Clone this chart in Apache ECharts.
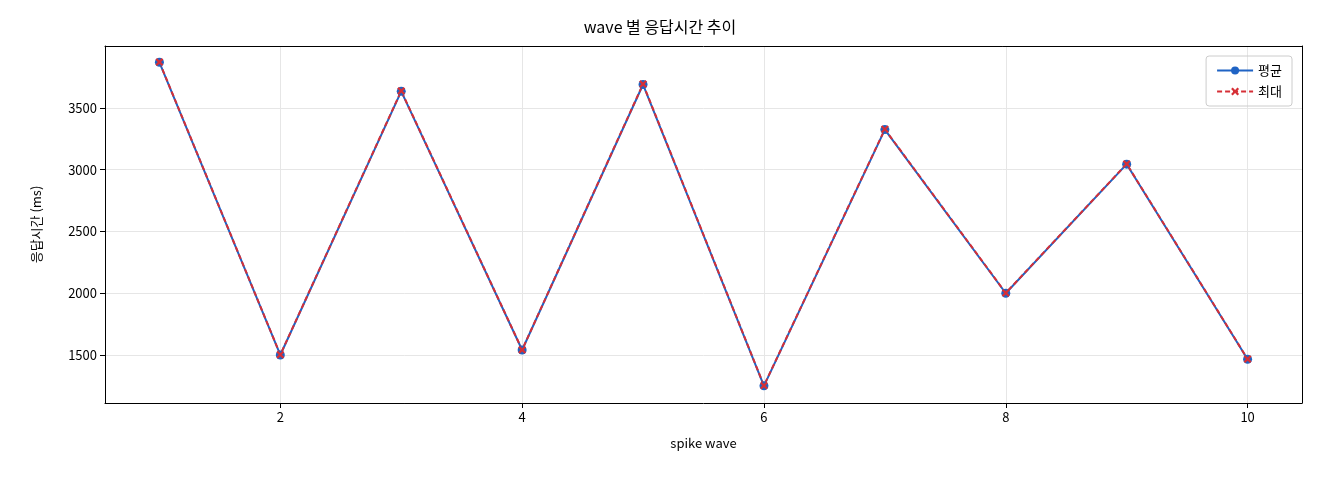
<!DOCTYPE html><html><head><meta charset="utf-8"><script src="https://cdn.jsdelivr.net/npm/echarts@6/dist/echarts.min.js"></script></head><body style="margin:0"><div id="c" style="width:1320px;height:480px"></div><script>
const waves=[1,2,3,4,5,6,7,8,9,10];
const avgVals=[3870,1500,3635,1540,3690,1250,3325,2000,3045,1465];
const maxVals=[3872,1502,3638,1542,3694,1252,3328,2002,3047,1467];
const xTicks=[2,4,6,8,10];
const yTicks=[1500,2000,2500,3000,3500];
const F='"Noto Sans CJK KR", "DejaVu Sans", sans-serif';
const X='path://M2,0L5,3L8,0L10,2L7,5L10,8L8,10L5,7L2,10L0,8L3,5L0,2Z';
const c=echarts.init(document.getElementById('c'));
const frame={show:true,lineStyle:{color:'#000'}};
c.setOption({animation:false,textStyle:{fontFamily:F},
title:{text:'wave 별 응답시간 추이',left:'center',top:14,textStyle:{fontSize:16,fontWeight:'normal',color:'#000',fontFamily:F}},
legend:{right:28,top:56,orient:'vertical',itemGap:8,borderColor:'#ccc',borderWidth:1,borderRadius:3,padding:[8,10],itemWidth:36,itemHeight:10,textStyle:{fontSize:13,color:'#000'},data:['평균','최대']},
grid:{left:105,right:18,top:46,bottom:77},
xAxis:[{type:'value',min:0.55,max:10.45,name:'spike wave',nameLocation:'middle',nameGap:34,nameTextStyle:{fontSize:13,color:'#000'},
axisLine:{onZero:false,lineStyle:{color:'#000'}},axisTick:{customValues:xTicks,lineStyle:{color:'#000'}},axisLabel:{customValues:xTicks,color:'#000',fontSize:13,formatter:v=>String(v)},splitLine:{show:true,lineStyle:{color:'#e6e6e6'}}},
{type:'value',position:'top',min:0.55,max:10.45,axisLine:Object.assign({onZero:false},frame),axisTick:{show:false},axisLabel:{show:false},splitLine:{show:false}}],
yAxis:[{type:'value',min:1111,max:4002,name:'응답시간 (ms)',nameLocation:'middle',nameGap:62,nameTextStyle:{fontSize:13,color:'#000'},
axisLine:{show:true,lineStyle:{color:'#000'}},axisTick:{show:true,customValues:yTicks,lineStyle:{color:'#000'}},axisLabel:{customValues:yTicks,color:'#000',fontSize:13,formatter:v=>String(v)},splitLine:{show:true,lineStyle:{color:'#e6e6e6'}}},
{type:'value',position:'right',min:1111,max:4002,axisLine:frame,axisTick:{show:false},axisLabel:{show:false},splitLine:{show:false}}],
series:[
{name:'평균',type:'line',data:waves.map((w,i)=>[w,avgVals[i]]),symbol:'circle',symbolSize:9,itemStyle:{color:'#1f63c4'},lineStyle:{width:2,color:'#1f63c4'}},
{name:'최대',type:'line',data:waves.map((w,i)=>[w,maxVals[i]]),symbol:X,symbolSize:8,itemStyle:{color:'#d62f36'},lineStyle:{width:2,type:[5,3],color:'#d62f36'}}
]});
</script></body></html>
